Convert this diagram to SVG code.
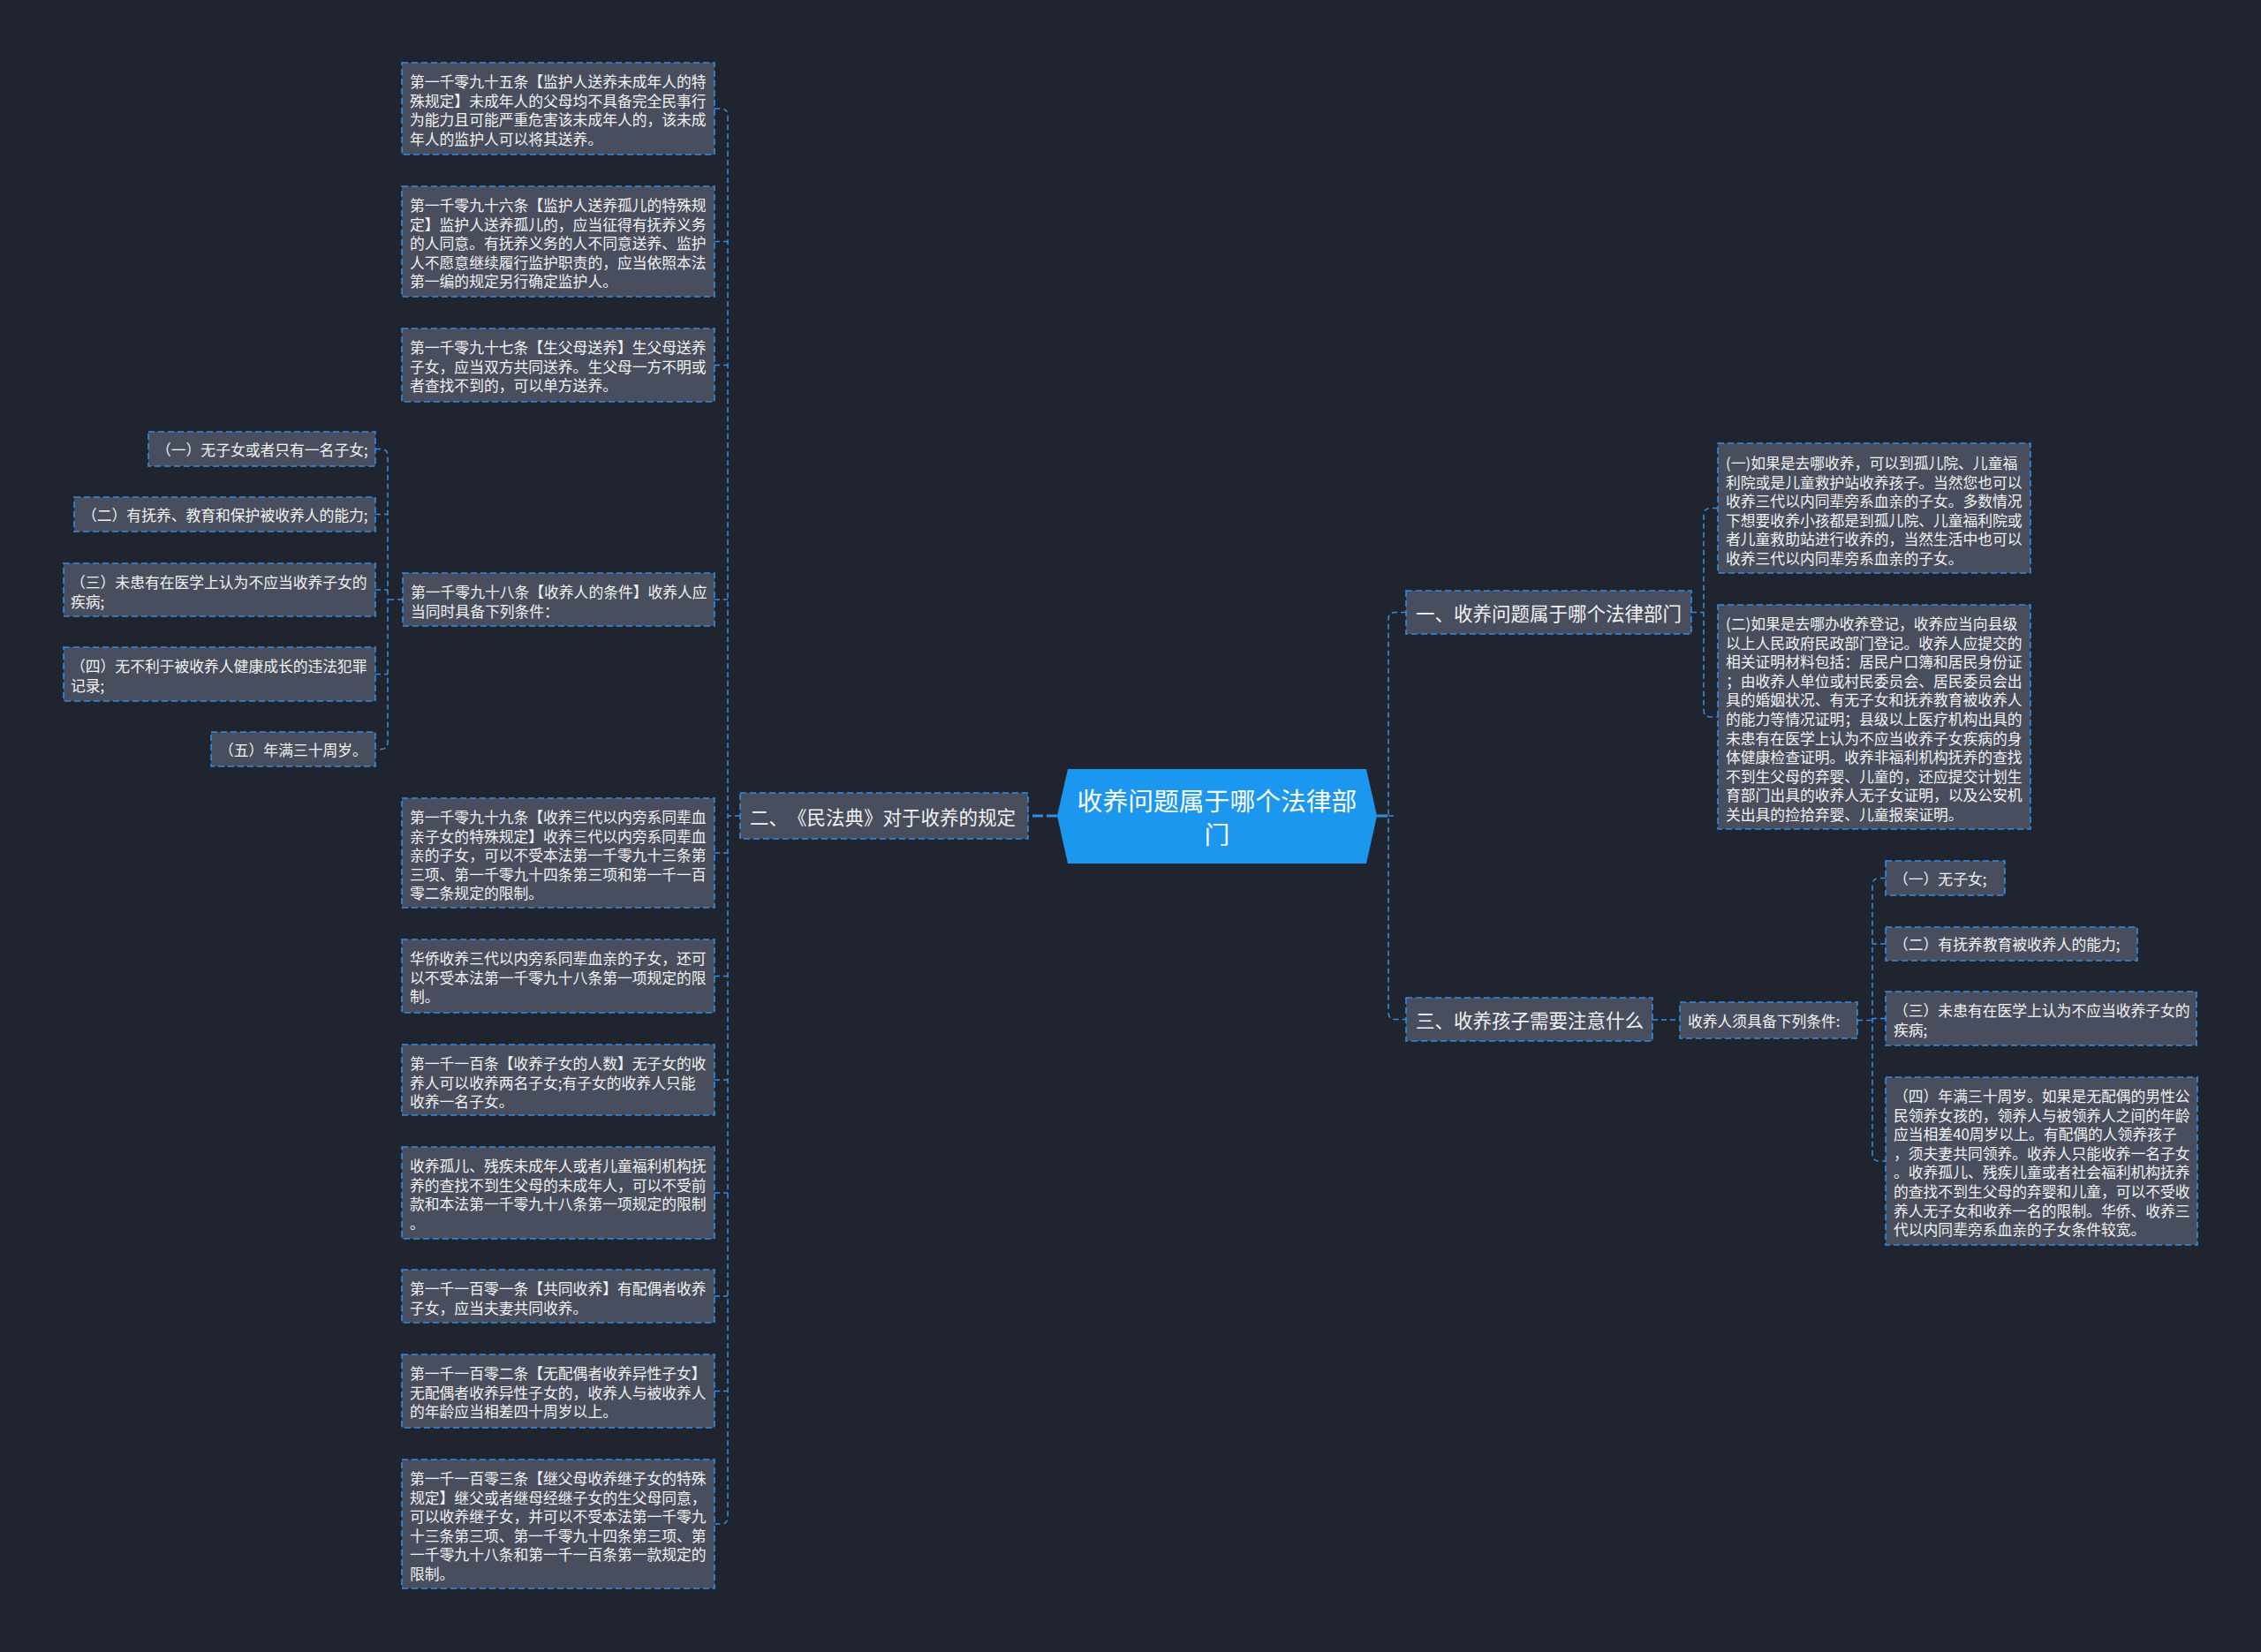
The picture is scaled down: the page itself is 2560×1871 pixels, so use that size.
<svg xmlns="http://www.w3.org/2000/svg" width="2560" height="1871" viewBox="0 0 2560 1871">
<style>
.box{fill:#484e5d;stroke:#2e8de6;stroke-width:1.6;stroke-dasharray:7 4}
.t{fill:#f2f2f2;font-family:"Noto Sans CJK SC","Noto Sans",sans-serif;font-size:16.8px;dominant-baseline:central}
.l1{font-size:21.5px;text-spacing-trim:space-all;font-feature-settings:"chws" 0,"halt" 0}
.ct{fill:#ffffff;font-family:"Noto Sans CJK SC","Noto Sans",sans-serif;font-size:28.8px;dominant-baseline:central;text-anchor:middle}
.conn{fill:none;stroke:#2e8de6;stroke-width:1.6;stroke-dasharray:6 4}
.main{fill:none;stroke:#2e8de6;stroke-width:3;stroke-dasharray:12 4}
</style>
<rect width="2560" height="1871" fill="#20242f"/>
<g id="connectors">
<path class="main" d="M1197,924 H1164"/>
<path class="main" d="M1559,924 H1572"/>
<path class="conn" d="M809,123 H816 Q824,123 824,131 V1718 Q824,1726 816,1726 H809 M838,924 H824 M809,273.5 H824 M809,413.5 H824 M809,679 H824 M809,966 H824 M809,1105.5 H824 M809,1223 H824 M809,1351 H824 M809,1468 H824 M809,1575.5 H824"/>
<path class="conn" d="M425,508.5 H431 Q439,508.5 439,516.5 V840.5 Q439,848.5 431,848.5 H425 M425,582.5 H439 M425,668 H439 M425,763.5 H439 M456,679 H439"/>
<path class="conn" d="M1592,693.5 H1580 Q1572,693.5 1572,701.5 V1146.5 Q1572,1154.5 1580,1154.5 H1592 M1572,924 H1580"/>
<path class="conn" d="M1945,575.5 H1937 Q1929,575.5 1929,583.5 V804 Q1929,812 1937,812 H1945 M1915,693.5 H1929"/>
<path class="conn" d="M1871,1155 H1902"/>
<path class="conn" d="M2135,994.5 H2128 Q2120,994.5 2120,1002.5 V1307 Q2120,1315 2128,1315 H2135 M2135,1069 H2120 M2135,1153.5 H2120 M2103,1155.5 H2120"/>
</g>
<g id="center">
<polygon points="1197,924 1209,871 1547,871 1559,924 1547,978 1209,978" fill="#1c97f0"/>
<text class="ct" x="1378"><tspan x="1378" y="905">收养问题属于哪个法律部</tspan><tspan x="1378" y="943">门</tspan></text>
</g>
<g id="b2">
<rect class="box" x="838" y="898" width="326" height="52"/>
<text class="t l1" x="849" y="924">二、《民法典》对于收养的规定</text>
</g>
<g id="b1">
<rect class="box" x="1592" y="669" width="323" height="49"/>
<text class="t l1" x="1603" y="693.5">一、收养问题属于哪个法律部门</text>
</g>
<g id="b3">
<rect class="box" x="1592" y="1130" width="279" height="49"/>
<text class="t l1" x="1603" y="1154.5">三、收养孩子需要注意什么</text>
</g>
<g id="n1095">
<rect class="box" x="455" y="71" width="354" height="104"/>
<text class="t"><tspan x="464" y="92">第一千零九十五条【监护人送养未成年人的特</tspan><tspan x="464" y="113.6">殊规定】未成年人的父母均不具备完全民事行</tspan><tspan x="464" y="135.2">为能力且可能严重危害该未成年人的，该未成</tspan><tspan x="464" y="156.8">年人的监护人可以将其送养。</tspan></text>
</g>
<g id="n1096">
<rect class="box" x="455" y="211" width="354" height="125"/>
<text class="t"><tspan x="464" y="232">第一千零九十六条【监护人送养孤儿的特殊规</tspan><tspan x="464" y="253.6">定】监护人送养孤儿的，应当征得有抚养义务</tspan><tspan x="464" y="275.2">的人同意。有抚养义务的人不同意送养、监护</tspan><tspan x="464" y="296.8">人不愿意继续履行监护职责的，应当依照本法</tspan><tspan x="464" y="318.4">第一编的规定另行确定监护人。</tspan></text>
</g>
<g id="n1097">
<rect class="box" x="455" y="372" width="354" height="83"/>
<text class="t"><tspan x="464" y="393">第一千零九十七条【生父母送养】生父母送养</tspan><tspan x="464" y="414.6">子女，应当双方共同送养。生父母一方不明或</tspan><tspan x="464" y="436.2">者查找不到的，可以单方送养。</tspan></text>
</g>
<g id="n1098">
<rect class="box" x="456" y="649" width="353" height="60"/>
<text class="t"><tspan x="465" y="670">第一千零九十八条【收养人的条件】收养人应</tspan><tspan x="465" y="691.6">当同时具备下列条件：</tspan></text>
</g>
<g id="c1">
<rect class="box" x="168" y="489" width="257" height="39"/>
<text class="t" x="177" y="508.5">（一）无子女或者只有一名子女;</text>
</g>
<g id="c2">
<rect class="box" x="84" y="563" width="341" height="39"/>
<text class="t" x="93" y="582.5">（二）有抚养、教育和保护被收养人的能力;</text>
</g>
<g id="c3">
<rect class="box" x="72" y="638" width="353" height="60"/>
<text class="t"><tspan x="80" y="659">（三）未患有在医学上认为不应当收养子女的</tspan><tspan x="80" y="680.6">疾病;</tspan></text>
</g>
<g id="c4">
<rect class="box" x="72" y="733" width="353" height="61"/>
<text class="t"><tspan x="80" y="754">（四）无不利于被收养人健康成长的违法犯罪</tspan><tspan x="80" y="775.6">记录;</tspan></text>
</g>
<g id="c5">
<rect class="box" x="239" y="829" width="186" height="39"/>
<text class="t" x="248" y="848.5">（五）年满三十周岁。</text>
</g>
<g id="n1099">
<rect class="box" x="455" y="904" width="354" height="124"/>
<text class="t"><tspan x="464" y="925">第一千零九十九条【收养三代以内旁系同辈血</tspan><tspan x="464" y="946.6">亲子女的特殊规定】收养三代以内旁系同辈血</tspan><tspan x="464" y="968.2">亲的子女，可以不受本法第一千零九十三条第</tspan><tspan x="464" y="989.8">三项、第一千零九十四条第三项和第一千一百</tspan><tspan x="464" y="1011.4">零二条规定的限制。</tspan></text>
</g>
<g id="nhq">
<rect class="box" x="455" y="1064" width="354" height="83"/>
<text class="t"><tspan x="464" y="1085">华侨收养三代以内旁系同辈血亲的子女，还可</tspan><tspan x="464" y="1106.6">以不受本法第一千零九十八条第一项规定的限</tspan><tspan x="464" y="1128.2">制。</tspan></text>
</g>
<g id="n1100">
<rect class="box" x="455" y="1183" width="354" height="80"/>
<text class="t"><tspan x="464" y="1204">第一千一百条【收养子女的人数】无子女的收</tspan><tspan x="464" y="1225.6">养人可以收养两名子女;有子女的收养人只能</tspan><tspan x="464" y="1247.2">收养一名子女。</tspan></text>
</g>
<g id="ngr">
<rect class="box" x="455" y="1299" width="354" height="104"/>
<text class="t"><tspan x="464" y="1320">收养孤儿、残疾未成年人或者儿童福利机构抚</tspan><tspan x="464" y="1341.6">养的查找不到生父母的未成年人，可以不受前</tspan><tspan x="464" y="1363.2">款和本法第一千零九十八条第一项规定的限制</tspan><tspan x="464" y="1384.8">。</tspan></text>
</g>
<g id="n1101">
<rect class="box" x="455" y="1438" width="354" height="60"/>
<text class="t"><tspan x="464" y="1459">第一千一百零一条【共同收养】有配偶者收养</tspan><tspan x="464" y="1480.6">子女，应当夫妻共同收养。</tspan></text>
</g>
<g id="n1102">
<rect class="box" x="455" y="1534" width="354" height="83"/>
<text class="t"><tspan x="464" y="1555">第一千一百零二条【无配偶者收养异性子女】</tspan><tspan x="464" y="1576.6">无配偶者收养异性子女的，收养人与被收养人</tspan><tspan x="464" y="1598.2">的年龄应当相差四十周岁以上。</tspan></text>
</g>
<g id="n1103">
<rect class="box" x="455" y="1653" width="354" height="146"/>
<text class="t"><tspan x="464" y="1674">第一千一百零三条【继父母收养继子女的特殊</tspan><tspan x="464" y="1695.6">规定】继父或者继母经继子女的生父母同意，</tspan><tspan x="464" y="1717.2">可以收养继子女，并可以不受本法第一千零九</tspan><tspan x="464" y="1738.8">十三条第三项、第一千零九十四条第三项、第</tspan><tspan x="464" y="1760.4">一千零九十八条和第一千一百条第一款规定的</tspan><tspan x="464" y="1782">限制。</tspan></text>
</g>
<g id="r1">
<rect class="box" x="1945" y="502" width="354" height="147"/>
<text class="t"><tspan x="1954" y="524">(一)如果是去哪收养，可以到孤儿院、儿童福</tspan><tspan x="1954" y="545.6">利院或是儿童救护站收养孩子。当然您也可以</tspan><tspan x="1954" y="567.2">收养三代以内同辈旁系血亲的子女。多数情况</tspan><tspan x="1954" y="588.8">下想要收养小孩都是到孤儿院、儿童福利院或</tspan><tspan x="1954" y="610.4">者儿童救助站进行收养的，当然生活中也可以</tspan><tspan x="1954" y="632">收养三代以内同辈旁系血亲的子女。</tspan></text>
</g>
<g id="r2">
<rect class="box" x="1945" y="685" width="354" height="254"/>
<text class="t"><tspan x="1954" y="706">(二)如果是去哪办收养登记，收养应当向县级</tspan><tspan x="1954" y="727.6">以上人民政府民政部门登记。收养人应提交的</tspan><tspan x="1954" y="749.2">相关证明材料包括：居民户口簿和居民身份证</tspan><tspan x="1954" y="770.8">；由收养人单位或村民委员会、居民委员会出</tspan><tspan x="1954" y="792.4">具的婚姻状况、有无子女和抚养教育被收养人</tspan><tspan x="1954" y="814">的能力等情况证明；县级以上医疗机构出具的</tspan><tspan x="1954" y="835.6">未患有在医学上认为不应当收养子女疾病的身</tspan><tspan x="1954" y="857.2">体健康检查证明。收养非福利机构抚养的查找</tspan><tspan x="1954" y="878.8">不到生父母的弃婴、儿童的，还应提交计划生</tspan><tspan x="1954" y="900.4">育部门出具的收养人无子女证明，以及公安机</tspan><tspan x="1954" y="922">关出具的捡拾弃婴、儿童报案证明。</tspan></text>
</g>
<g id="rc">
<rect class="box" x="1902" y="1135" width="201" height="41"/>
<text class="t" x="1911" y="1155.5">收养人须具备下列条件:</text>
</g>
<g id="s1">
<rect class="box" x="2135" y="975" width="135" height="39"/>
<text class="t" x="2144" y="994.5">（一）无子女;</text>
</g>
<g id="s2">
<rect class="box" x="2135" y="1050" width="285" height="38"/>
<text class="t" x="2144" y="1069">（二）有抚养教育被收养人的能力;</text>
</g>
<g id="s3">
<rect class="box" x="2135" y="1123" width="352" height="61"/>
<text class="t"><tspan x="2144" y="1144">（三）未患有在医学上认为不应当收养子女的</tspan><tspan x="2144" y="1165.6">疾病;</tspan></text>
</g>
<g id="s4">
<rect class="box" x="2135" y="1220" width="353" height="190"/>
<text class="t"><tspan x="2144" y="1241">（四）年满三十周岁。如果是无配偶的男性公</tspan><tspan x="2144" y="1262.6">民领养女孩的，领养人与被领养人之间的年龄</tspan><tspan x="2144" y="1284.2">应当相差40周岁以上。有配偶的人领养孩子</tspan><tspan x="2144" y="1305.8">，须夫妻共同领养。收养人只能收养一名子女</tspan><tspan x="2144" y="1327.4">。收养孤儿、残疾儿童或者社会福利机构抚养</tspan><tspan x="2144" y="1349">的查找不到生父母的弃婴和儿童，可以不受收</tspan><tspan x="2144" y="1370.6">养人无子女和收养一名的限制。华侨、收养三</tspan><tspan x="2144" y="1392.2">代以内同辈旁系血亲的子女条件较宽。</tspan></text>
</g>
</svg>
